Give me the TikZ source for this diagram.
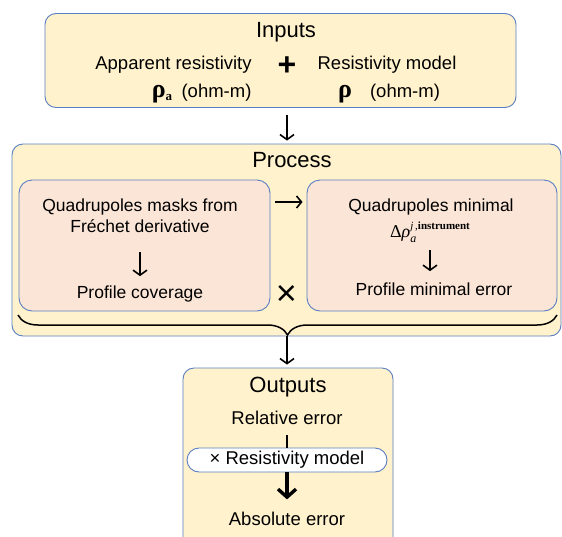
\documentclass[tikz,border=0pt]{standalone}
\usepackage{fontspec}
\newfontfamily\labelfont{Liberation Sans}
\newfontfamily\greekfont{Liberation Serif}
\usetikzlibrary{arrows.meta,decorations.pathreplacing}
\definecolor{panelfill}{HTML}{FFF2CC}
\definecolor{subfill}{HTML}{FBE5D6}
\definecolor{edgeblue}{HTML}{5A7EC2}
\begin{document}
\begin{tikzpicture}[x=1pt,y=-1pt,
  panel/.style={draw=edgeblue, line width=0.9pt, fill=panelfill, rounded corners=11pt, inner sep=0pt},
  subpanel/.style={draw=edgeblue, line width=0.9pt, fill=subfill, rounded corners=13pt, inner sep=0pt},
  pill/.style={draw=edgeblue, line width=0.9pt, fill=white, rounded corners=12pt, inner sep=0pt,
    font=\labelfont\fontsize{18.5}{22}\selectfont},
  body/.style={font=\labelfont\fontsize{17.5}{21}\selectfont, anchor=base, inner sep=0pt},
  bigbody/.style={font=\labelfont\fontsize{18.5}{22}\selectfont, anchor=base, inner sep=0pt},
  heading/.style={font=\labelfont\fontsize{22}{26}\selectfont, anchor=base, inner sep=0pt},
  greek/.style={font=\greekfont\bfseries\fontsize{26}{28}\selectfont, anchor=base, inner sep=0pt},
  conn/.style={-{Straight Barb[length=5pt,width=14pt]}, line width=1.6pt},
  heavy/.style={-{Straight Barb[length=8pt,width=18pt]}, line width=3.4pt},
]
\useasboundingbox (0,0) rectangle (562,536);

% ---- Inputs ----
\node[panel, minimum width=471pt, minimum height=94pt] (inbox) at (280.5,60.5) {};
\node[heading] (tin) at (286,37) {Inputs};
\node[bigbody] (tapp) at (173.5,69) {Apparent resistivity};
\node[bigbody] (tmod) at (387,69) {Resistivity model};
\node[font=\labelfont\bfseries\fontsize{32}{32}\selectfont, inner sep=0pt] (plus) at (287,66) {+};
\node[greek] (rhoa) at (162,97) {ρ\raisebox{-3pt}{\fontsize{13}{13}\selectfont a}};
\node[bigbody] (ohma) at (216.5,97) {(ohm-m)};
\node[greek] (rho) at (345,97) {ρ};
\node[bigbody] (ohmb) at (405,97) {(ohm-m)};

% ---- Process ----
\node[panel, minimum width=549pt, minimum height=192pt] (procbox) at (286.5,240) {};
\node[heading] (tproc) at (292,167) {Process};
\node[subpanel, minimum width=251pt, minimum height=131pt] (lsub) at (144.5,245.5) {};
\node[subpanel, minimum width=250pt, minimum height=131pt] (rsub) at (432,245.5) {};
\node[body] (tq1) at (140,211) {Quadrupoles masks from};
\node[body] (tfr) at (140,232) {Fréchet derivative};
\node[body] (tcov) at (140,298) {Profile coverage};
\node[body] (tq2) at (431,211) {Quadrupoles minimal};
\node[anchor=base, inner sep=0pt, font=\greekfont\fontsize{18}{20}\selectfont] (tdelta) at (430,237)
  {Δ\textit{ρ}\rlap{\raisebox{-5pt}{\fontsize{12}{12}\selectfont\itshape a}}%
   \raisebox{7.5pt}{\fontsize{11}{12}\selectfont\textit{j}\,,\textbf{instrument}}};
\node[body] (tmin) at (434,295) {Profile minimal error};
\node[font=\labelfont\fontsize{36}{36}\selectfont, inner sep=0pt] (times) at (286.5,295) {×};

\draw[conn, -{Straight Barb[length=5pt,width=12pt]}, shorten <=5pt, shorten >=4pt]
  ([yshift=43.5pt]lsub.east) -- ([yshift=43.5pt]rsub.west);
\draw[conn, shorten <=20pt, shorten >=9pt] (tfr) -- (tcov);
\draw[conn, shorten <=8pt, shorten >=11pt] (tdelta.south) -- (tdelta.south |- tmin.north);

% brace gathering both branches
\coordinate (bl) at (18,315);
\coordinate (br) at (557,315);
\coordinate (btip) at (287,335);
\draw[line width=1.5pt, decorate, decoration={brace, mirror, amplitude=20pt}] (bl) -- (br);

% ---- Outputs ----
\node[panel, minimum width=210pt, minimum height=180pt] (outbox) at (288,458) {};
\node[heading] (tout) at (288,392) {Outputs};
\node[bigbody] (trel) at (287,424) {Relative error};
\node[pill, minimum width=200pt, minimum height=24pt] (pillnode) at (287,460) {× Resistivity model};
\node[bigbody] (tabs) at (287,525) {Absolute error};

\draw[line width=1.6pt, shorten <=11pt] (trel) -- (pillnode);
\draw[heavy, shorten >=12pt] (pillnode) -- (tabs);

% ---- flow between stages ----
\draw[conn, shorten <=7pt, shorten >=3pt] (inbox.south -| btip) -- (procbox.north -| btip);
\draw[conn, shorten <=1pt, shorten >=3pt] (btip) -- (btip |- outbox.north);
\end{tikzpicture}
\end{document}
